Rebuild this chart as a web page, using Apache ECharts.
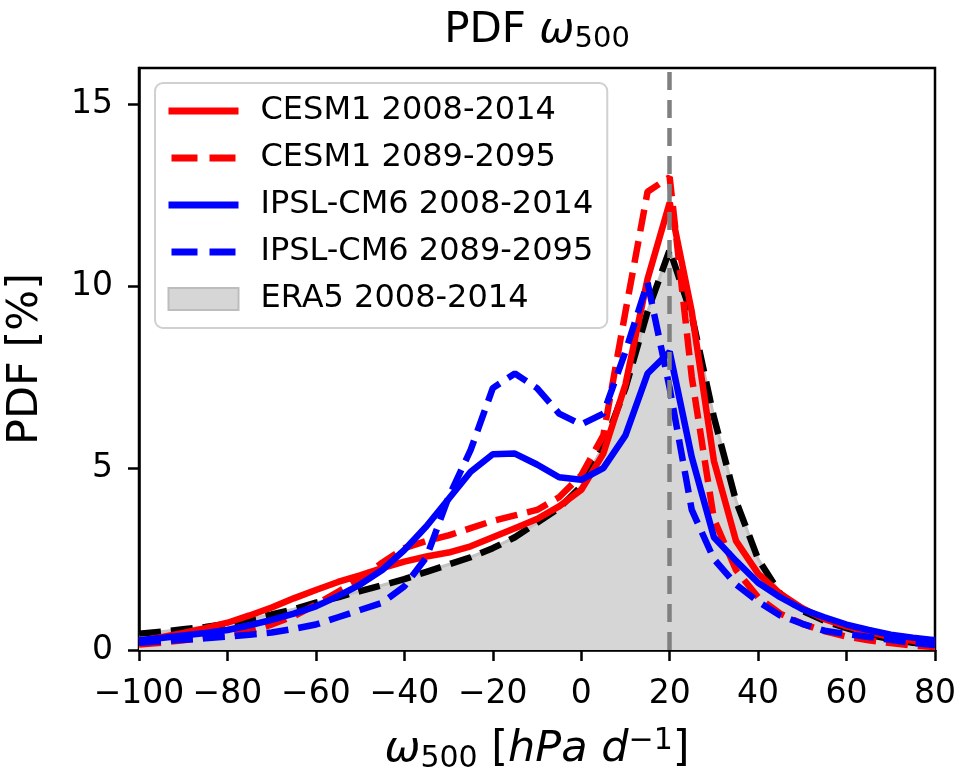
<!DOCTYPE html>
<html>
<head>
<meta charset="utf-8">
<script src="https://cdn.jsdelivr.net/npm/echarts@6/dist/echarts.min.js"></script>
<style>
  html, body { margin: 0; padding: 0; background: #fff; }
  #chart { width: 957px; height: 767px; }
</style>
</head>
<body>
<div id="chart"></div>
<script>
// omega500 bins [hPa/d]
const omega = [-100, -95, -90, -85, -80, -75, -70, -65, -60, -55, -50, -45, -40, -35, -30, -25, -20, -15, -10, -5,
  0, 5, 10, 15, 20, 25, 30, 35, 40, 45, 50, 55, 60, 65, 70, 75, 80];

// PDF [%]
const era5 = [0.45, 0.5, 0.57, 0.63, 0.72, 0.85, 0.98, 1.12, 1.3, 1.45, 1.62, 1.78, 1.95, 2.15, 2.35, 2.55, 2.8, 3.1, 3.5, 3.9,
  4.5, 5.6, 7.2, 9.3, 11.0, 9.2, 6.4, 4.1, 2.5, 1.55, 1.08, 0.8, 0.6, 0.42, 0.3, 0.2, 0.15];
const cesmHist = [0.25, 0.35, 0.47, 0.6, 0.75, 0.95, 1.17, 1.42, 1.65, 1.87, 2.05, 2.25, 2.43, 2.57, 2.68, 2.85, 3.1, 3.35, 3.6, 3.95,
  4.4, 5.4, 7.3, 10.2, 12.3, 9.3, 5.2, 3.0, 2.1, 1.55, 1.15, 0.85, 0.65, 0.5, 0.35, 0.25, 0.18];
const cesmFut = [0.15, 0.2, 0.27, 0.35, 0.45, 0.52, 0.7, 0.93, 1.25, 1.6, 1.95, 2.4, 2.8, 3.0, 3.15, 3.35, 3.55, 3.7, 3.85, 4.2,
  4.8, 5.9, 9.3, 12.6, 13.0, 7.5, 3.6, 2.2, 1.45, 1.0, 0.72, 0.52, 0.37, 0.27, 0.19, 0.12, 0.08];
const ipslHist = [0.27, 0.33, 0.4, 0.47, 0.55, 0.68, 0.83, 1.0, 1.2, 1.48, 1.8, 2.2, 2.75, 3.4, 4.15, 4.9, 5.38, 5.4, 5.1, 4.75,
  4.68, 5.0, 5.9, 7.6, 8.2, 5.3, 3.1, 2.45, 1.85, 1.45, 1.12, 0.9, 0.7, 0.55, 0.42, 0.34, 0.27];
const ipslFut = [0.2, 0.24, 0.28, 0.32, 0.37, 0.42, 0.48, 0.58, 0.7, 0.9, 1.1, 1.3, 1.75, 2.55, 4.2, 5.5, 7.2, 7.6, 7.2, 6.5,
  6.2, 6.5, 8.2, 10.1, 7.2, 3.85, 2.5, 1.8, 1.33, 0.95, 0.72, 0.53, 0.44, 0.36, 0.28, 0.19, 0.14];

const yTicks = [0, 5, 10, 15];
const refOmega = 20;

const pairs = ys => omega.map((x, i) => [x, ys[i]]);
const FONT = "DejaVu Sans";
const dash = [22, 10];
// legend dash: two full dashes, like the matplotlib handle
const legendDash = { type: [26, 12], dashOffset: 35 };

const lineSeries = (name, ys, color, dashed) => ({
  name: name,
  type: "line",
  data: pairs(ys),
  symbol: "none",
  smooth: false,
  lineStyle: { color: color, width: 6.5, type: dashed ? dash : "solid", cap: "butt" },
  itemStyle: { color: color },
  z: 4
});

const option = {
  animation: false,
  backgroundColor: "#fff",
  textStyle: { fontFamily: FONT },
  grid: {
    left: 139, right: 22, top: 68, bottom: 117,
    outerBoundsMode: "none",
    show: true, borderColor: "#000", borderWidth: 2.5, backgroundColor: "transparent"
  },
  graphic: [
    {
      type: "text",
      x: 537, y: 31,
      style: {
        text: "{n|PDF }{i|ω}{s|500}",
        align: "center", verticalAlign: "middle",
        rich: {
          n: { fontSize: 42, fontFamily: FONT, fill: "#000" },
          i: { fontSize: 42, fontFamily: FONT, fontStyle: "italic", fill: "#000" },
          s: { fontSize: 29, fontFamily: FONT, fill: "#000", padding: [16, 0, 0, 0] }
        }
      }
    }
  ],
  legend: {
    orient: "vertical",
    left: 155, top: 83,
    padding: [10, 14, 11, 10],
    itemWidth: 70, itemHeight: 22, itemGap: 11,
    backgroundColor: "#fff",
    borderColor: "#d0d0d0", borderWidth: 2, borderRadius: 8,
    itemStyle: { opacity: 0 },
    lineStyle: { width: 7 },
    textStyle: { fontSize: 32, fontFamily: FONT, color: "#000", lineHeight: 36, padding: [0, 0, 0, 17] },
    data: [
      "CESM1 2008-2014",
      { name: "CESM1 2089-2095", lineStyle: legendDash },
      "IPSL-CM6 2008-2014",
      { name: "IPSL-CM6 2089-2095", lineStyle: legendDash },
      { name: "ERA5 2008-2014", icon: "rect",
        itemStyle: { color: "#d6d6d6", borderColor: "#bdbdbd", borderWidth: 2, opacity: 1 } }
    ]
  },
  xAxis: {
    type: "value",
    min: -100, max: 80, interval: 20,
    name: "{i|ω}{s|500}{n| [}{i|hPa d}{p|−1}{n|]}",
    nameLocation: "middle", nameGap: 76,
    nameTextStyle: {
      rich: {
        n: { fontSize: 43, fontFamily: FONT, color: "#000" },
        i: { fontSize: 43, fontFamily: FONT, fontStyle: "italic", color: "#000" },
        s: { fontSize: 30, fontFamily: FONT, color: "#000", padding: [18, 0, 0, 0] },
        p: { fontSize: 30, fontFamily: FONT, color: "#000", padding: [0, 0, 18, 0] }
      }
    },
    axisLine: { show: true, onZero: false, lineStyle: { color: "#000", width: 2.5 } },
    axisTick: { show: true, length: 11, lineStyle: { color: "#000", width: 2.5 } },
    axisLabel: { fontSize: 33, fontFamily: FONT, color: "#000", margin: 28,
      formatter: v => (v < 0 ? "\u2212" + Math.abs(v) : String(v)) },
    splitLine: { show: false }
  },
  yAxis: {
    type: "value",
    min: 0, max: 16,
    name: "PDF [%]",
    nameLocation: "middle", nameGap: 92, nameRotate: 90,
    nameTextStyle: { fontSize: 43, fontFamily: FONT, color: "#000" },
    axisLine: { show: true, onZero: false, lineStyle: { color: "#000", width: 2.5 } },
    axisTick: { show: true, length: 11, customValues: yTicks, lineStyle: { color: "#000", width: 2.5 } },
    axisLabel: { fontSize: 33, fontFamily: FONT, color: "#000", margin: 26, customValues: yTicks },
    splitLine: { show: false }
  },
  series: [
    {
      name: "ERA5 2008-2014",
      type: "line",
      data: pairs(era5),
      symbol: "none",
      lineStyle: { color: "#c4c4c4", width: 3 },
      areaStyle: { color: "#d6d6d6", opacity: 1 },
      itemStyle: { color: "#d6d6d6" },
      z: 1
    },
    {
      name: "ERA5 line",
      type: "line",
      data: pairs(era5),
      symbol: "none",
      lineStyle: { color: "#000", width: 6.5, type: dash, cap: "butt" },
      z: 2,
      markLine: {
        silent: true,
        symbol: "none",
        label: { show: false },
        lineStyle: { color: "#808080", width: 4.5, type: [18, 10] },
        data: [{ xAxis: refOmega }]
      }
    },
    lineSeries("CESM1 2008-2014", cesmHist, "#ff0000", false),
    lineSeries("CESM1 2089-2095", cesmFut, "#ff0000", true),
    lineSeries("IPSL-CM6 2008-2014", ipslHist, "#0000ff", false),
    lineSeries("IPSL-CM6 2089-2095", ipslFut, "#0000ff", true)
  ]
};

const chart = echarts.init(document.getElementById("chart"));
chart.setOption(option);
</script>
</body>
</html>
